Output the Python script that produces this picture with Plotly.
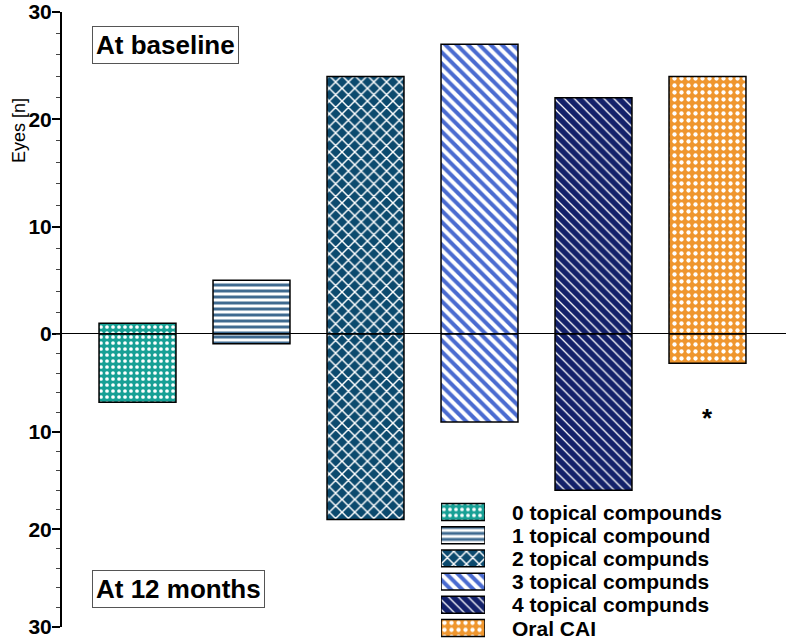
import plotly.graph_objects as go

# ---- data ----
categories = ["0 topical compounds", "1 topical compound", "2 topical compunds",
              "3 topical compunds", "4 topical compunds", "Oral CAI"]
baseline = [1, 5, 24, 27, 22, 24]          # eyes at baseline (upwards)
month12 = [7, 1, 19, 9, 16, 3]             # eyes at 12 months (downwards)
bar_colors = ["#17a095", "#ffffff", "#0c4a6e", "#ffffff", "#13216a", "#ef962e"]
pat_shapes = [".", "-", "x", "\\", "\\", "."]
pat_fg = ["#ffffff", "#3f6a90", "#ffffff", "#4a6bd0", "#ffffff", "#ffffff"]
pat_size = [6, 6, 9, 8, 7, 7]
pat_sol = [0.3, 0.5, 0.3, 0.5, 0.18, 0.3]
top_ticks = [0, 10, 20, 30]
bottom_ticks = [10, 20, 30]

W, H = 786, 642
ML, MR, MT, MB = 62, 0, 12, 2
PW, PH = W - ML - MR, H - MT - MB


def px(x):
    return (x - ML) / PW


def py(y):
    return (H - MB - y) / PH


xs = list(range(len(categories)))
r0 = -(137.5 - ML) / 114.0
r1 = r0 + PW / 114.0

fig = go.Figure()
for i, cat in enumerate(categories):
    mk = dict(
        color=bar_colors[i],
        line=dict(color="black", width=1.5),
        pattern=dict(shape=pat_shapes[i], fgcolor=pat_fg[i], size=pat_size[i],
                     solidity=pat_sol[i], fillmode="overlay", fgopacity=1),
    )
    fig.add_trace(go.Bar(x=[xs[i]], y=[baseline[i]], width=0.675, marker=mk,
                         xaxis="x", yaxis="y", showlegend=False, name=cat))
    fig.add_trace(go.Bar(x=[xs[i]], y=[month12[i]], width=0.675, marker=mk,
                         xaxis="x", yaxis="y2", showlegend=False, name=cat))
    # legend swatch
    fig.add_trace(go.Bar(x=[1], y=[cat], orientation="h", width=0.73,
                         marker=mk, xaxis="x2", yaxis="y3",
                         showlegend=False, hoverinfo="skip"))

tickfont = dict(family="Liberation Sans", size=21, color="black", weight="bold")
yax_common = dict(showline=True, linecolor="black", linewidth=2, ticks="outside",
                  ticklen=8, tickwidth=2, tickcolor="black", showgrid=False,
                  zeroline=False, tickfont=tickfont, automargin=False,
                  ticklabelstandoff=-4, ticklabeloverflow="allow",
                  minor=dict(dtick=2, ticks="outside", ticklen=4, tickwidth=1,
                             tickcolor="#444444"))

fig.update_layout(
    width=W, height=H,
    margin=dict(l=ML, r=MR, t=MT, b=MB, autoexpand=False),
    plot_bgcolor="white", paper_bgcolor="white",
    barmode="overlay",
    xaxis=dict(range=[r0, r1], visible=False, anchor="y2", automargin=False),
    yaxis=dict(domain=[py(334), 1], range=[0, 30], tickvals=top_ticks,
               anchor="x", **yax_common),
    yaxis2=dict(domain=[py(627), py(334)], range=[30, 0], tickvals=bottom_ticks,
                anchor="x", **yax_common),
    xaxis2=dict(domain=[px(441), px(485)], range=[0, 1], visible=False,
                anchor="y3", automargin=False),
    yaxis3=dict(domain=[py(639.6), py(500.4)], range=[5.5, -0.5], visible=False,
                anchor="x2", type="category", automargin=False),
)

# zero line
fig.add_shape(type="line", xref="paper", x0=0, x1=1, yref="y", y0=0, y1=0,
              line=dict(color="black", width=2), layer="above")

labfont = dict(family="Liberation Sans", size=26, color="black", weight="bold")
fig.add_annotation(text="At baseline", xref="paper", yref="paper",
                   x=px(92), y=py(44.5), xanchor="left", yanchor="middle",
                   showarrow=False, font=labfont, bordercolor="#555555",
                   borderwidth=1, borderpad=3, bgcolor="white")
fig.add_annotation(text="At 12 months", xref="paper", yref="paper",
                   x=px(92), y=py(588.5), xanchor="left", yanchor="middle",
                   showarrow=False, font=labfont, bordercolor="#555555",
                   borderwidth=1, borderpad=3, bgcolor="white")
fig.add_annotation(text="Eyes [n]", xref="paper", yref="paper",
                   x=px(19), y=py(131), textangle=-90, showarrow=False,
                   xanchor="center", yanchor="middle",
                   font=dict(family="Liberation Sans", size=18, color="black"))
fig.add_annotation(text="*", xref="x", yref="y2", x=5, y=8.6, showarrow=False,
                   font=dict(family="Liberation Sans", size=26, color="black",
                             weight="bold"))
for c in categories:
    fig.add_annotation(text=c, xref="paper", yref="y3", x=px(510), y=c,
                       xanchor="left", yanchor="middle", showarrow=False,
                       font=dict(family="Liberation Sans", size=21,
                                 color="black", weight="bold"))

fig.write_html("out.html", config={"displayModeBar": False},
               post_script="document.body.style.margin='0';"
                           "document.body.style.overflow='hidden';")
